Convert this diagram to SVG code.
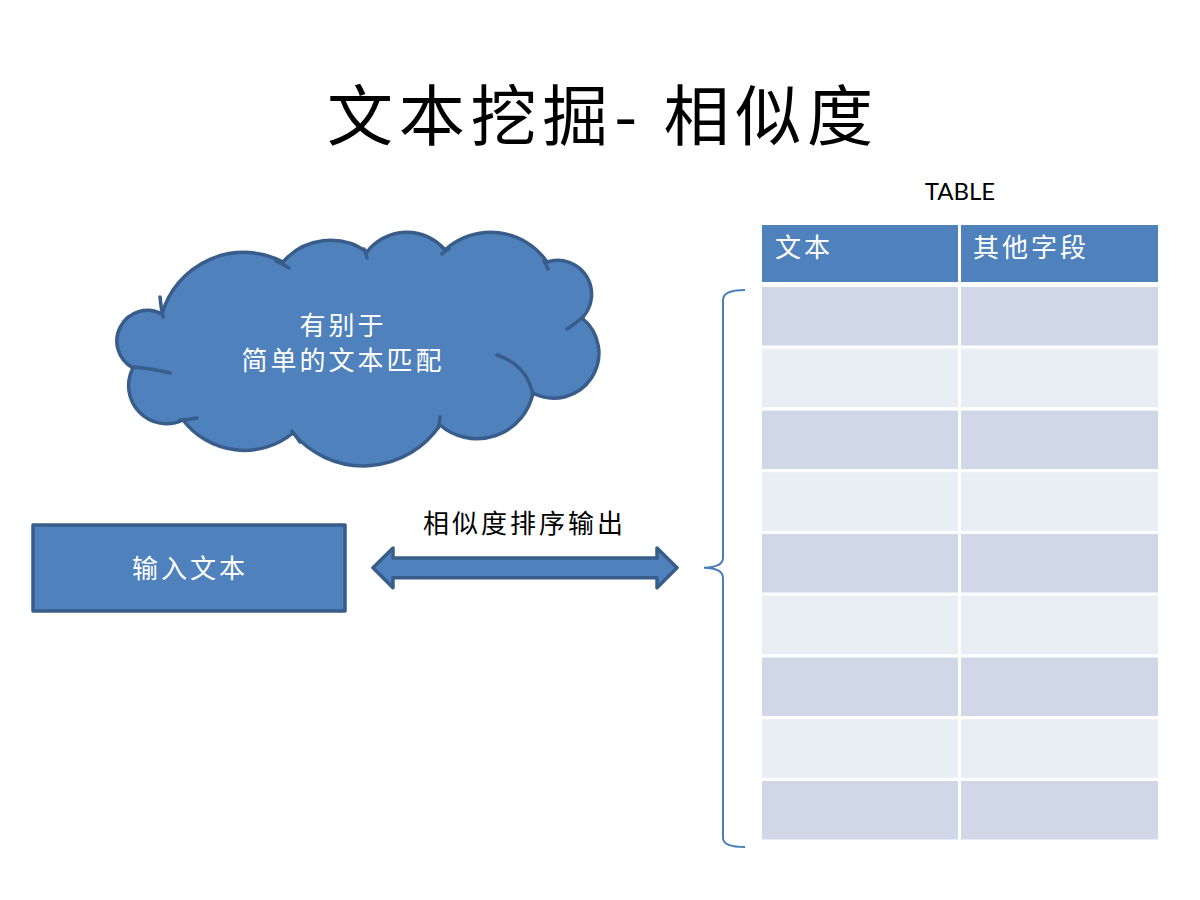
<svg xmlns="http://www.w3.org/2000/svg" width="1200" height="900" viewBox="0 0 1200 900">
<style>
.shape{fill:#4F81BD;stroke:#385D8A;stroke-width:3.5;stroke-linejoin:round}
.curl{fill:none;stroke:#385D8A;stroke-width:3.5;stroke-linecap:round}
.cjk{font-family:"Noto Sans CJK SC","Noto Sans",sans-serif}
.wt{fill:#FFFFFF;font-size:26px;letter-spacing:3px}
.bk{fill:#000000}
.hdr{fill:#4F81BD}
.r1{fill:#D0D8E8}
.r2{fill:#E9EDF4}
</style>
<rect width="1200" height="900" fill="#FFFFFF"/>
<g id="title">
<text class="cjk bk" x="327" y="140" font-size="66" textLength="546" lengthAdjust="spacing">文本挖掘- 相似度</text>
</g>
<g id="cloud">
<path class="shape" d="M133,368 A30 30 0 0 1 162,314 A85 85 0 0 1 283,262 A63 63 0 0 1 367,252 A50 50 0 0 1 445,250 A68 68 0 0 1 547,262 A34 34 0 0 1 582,318 A45 45 0 0 1 533,393 A57 57 0 0 1 440,425 A92 92 0 0 1 293,433 A77 77 0 0 1 183,420 A38 38 0 0 1 133,368 Z"/>
<path class="curl" d="M132,367 Q150,368 170,373 M160,297 Q161,308 163,317 M276,261 Q283,264 289,268 M364,249 Q366,253 367,258 M442,254 Q445,251 449,249 M544,261 Q546,265 548,269 M567,329 Q575,324 583,317 M497,355 Q527,365 533,395 M440,417 Q440,422 438,428 M292,431 Q296,436 300,442 M180,420 Q189,420 197,418"/>
<text class="cjk wt" x="343" y="335" text-anchor="middle">有别于</text>
<text class="cjk wt" x="343" y="370" text-anchor="middle">简单的文本匹配</text>
</g>
<g id="input">
<rect class="shape" x="33" y="525" width="312" height="86"/>
<text class="cjk wt" x="190" y="578" text-anchor="middle">输入文本</text>
</g>
<g id="connectors">
<path class="shape" d="M373,567.7 L393,548 L393,558 L657,558 L657,548 L677,567.7 L657,587.7 L657,577.7 L393,577.7 L393,587.7 Z"/>
<path d="M745,290 Q723,290 723,300 L723,558 Q723,567 704,567.7 Q723,568 723,578 L723,838 Q723,847 745,847" fill="none" stroke="#4A7EBB" stroke-width="2"/>
</g>
<g id="label">
<text class="cjk bk" x="423" y="533" font-size="26" letter-spacing="3">相似度排序输出</text>
</g>
<g id="table">
<text x="960" y="200" text-anchor="middle" font-family="Lato,'Open Sans',sans-serif" font-size="24" fill="#000000">TABLE</text>
<rect class="hdr" x="762" y="225" width="196" height="57"/>
<rect class="hdr" x="961" y="225" width="197" height="57"/>
<text class="cjk wt" x="775" y="257">文本</text>
<text class="cjk wt" x="973" y="257">其他字段</text>
<rect class="r1" x="762" y="287" width="196" height="58.5"/><rect class="r1" x="961" y="287" width="197" height="58.5"/>
<rect class="r2" x="762" y="348.75" width="196" height="58.5"/><rect class="r2" x="961" y="348.75" width="197" height="58.5"/>
<rect class="r1" x="762" y="410.5" width="196" height="58.5"/><rect class="r1" x="961" y="410.5" width="197" height="58.5"/>
<rect class="r2" x="762" y="472.25" width="196" height="58.5"/><rect class="r2" x="961" y="472.25" width="197" height="58.5"/>
<rect class="r1" x="762" y="534" width="196" height="58.5"/><rect class="r1" x="961" y="534" width="197" height="58.5"/>
<rect class="r2" x="762" y="595.75" width="196" height="58.5"/><rect class="r2" x="961" y="595.75" width="197" height="58.5"/>
<rect class="r1" x="762" y="657.5" width="196" height="58.5"/><rect class="r1" x="961" y="657.5" width="197" height="58.5"/>
<rect class="r2" x="762" y="719.25" width="196" height="58.5"/><rect class="r2" x="961" y="719.25" width="197" height="58.5"/>
<rect class="r1" x="762" y="781" width="196" height="58.5"/><rect class="r1" x="961" y="781" width="197" height="58.5"/>
</g>
</svg>
